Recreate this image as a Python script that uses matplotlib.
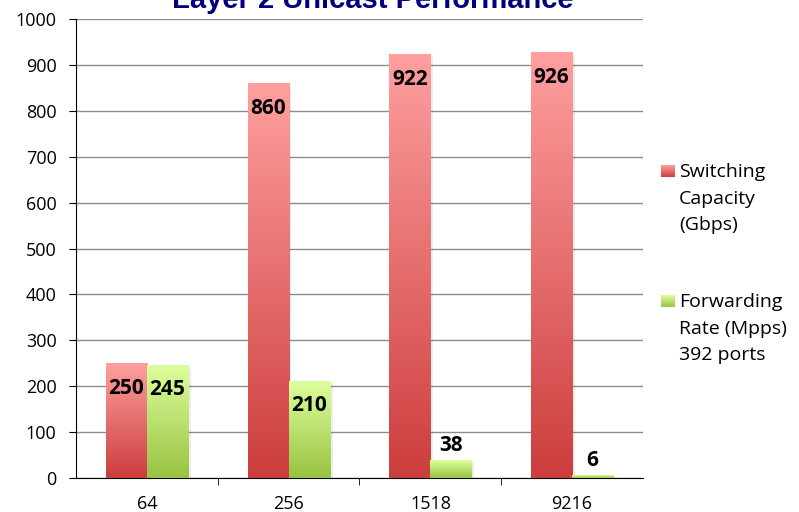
import numpy as np
import matplotlib.pyplot as plt
from matplotlib.colors import LinearSegmentedColormap
from matplotlib.patches import Rectangle

frame_sizes = ['64', '256', '1518', '9216']
switching_gbps = [250, 860, 922, 926]
forwarding_mpps = [245, 210, 38, 6]

red_cmap = LinearSegmentedColormap.from_list('red_grad', ['#cc3d3d', '#ff9f9f'])
green_cmap = LinearSegmentedColormap.from_list('green_grad', ['#98c242', '#ddff9c'])

plt.rcParams['font.family'] = ['Open Sans', 'DejaVu Sans']

fig = plt.figure(figsize=(7.99, 5.12), dpi=100)
ax = fig.add_axes([76 / 799, 34 / 512, 567 / 799, 459 / 512])

x = np.arange(len(frame_sizes))
width = 0.29
grad = np.linspace(0, 1, 256).reshape(-1, 1)


def gradient_bars(xs, values, cmap):
    for xi, v in zip(xs, values):
        # soft shadow behind each bar
        ax.add_patch(Rectangle((xi - width / 2 + 0.02, 0), width, v - 4,
                               facecolor='#000000', alpha=0.07, zorder=2))
        ax.imshow(grad, cmap=cmap, aspect='auto', origin='lower',
                  extent=(xi - width / 2, xi + width / 2, 0, v), zorder=3)


gradient_bars(x - width / 2, switching_gbps, red_cmap)
gradient_bars(x + width / 2, forwarding_mpps, green_cmap)

# value labels: inside the top of tall bars, above the short ones
label_kw = dict(ha='center', fontsize=15, fontweight='bold', zorder=5)
for xi, v in zip(x - width / 2, switching_gbps):
    ax.text(xi, v - 54, str(v), va='center', **label_kw)
for xi, v in zip(x + width / 2, forwarding_mpps):
    if v > 100:
        ax.text(xi, v - 52, str(v), va='center', **label_kw)
    else:
        ax.text(xi, v + 10, str(v), va='bottom', **label_kw)

ax.set_xlim(-0.5, len(frame_sizes) - 0.5)
ax.set_ylim(0, 1000)
ax.set_yticks(range(0, 1001, 100))
ax.yaxis.grid(True, color='#8c8c8c', linewidth=1)
ax.set_axisbelow(True)

ax.set_xticks(x)
ax.set_xticklabels(frame_sizes, fontsize=13)
ax.set_xticks(np.arange(-0.5, len(frame_sizes), 1)[1:-1], minor=True)
ax.tick_params(axis='x', which='major', length=0, pad=12)
ax.tick_params(axis='x', which='minor', length=5, direction='out', color='black')
ax.tick_params(axis='y', length=5, direction='out', labelsize=13, pad=9)

for side in ['top', 'right']:
    ax.spines[side].set_visible(False)
ax.spines['left'].set_color('black')
ax.spines['bottom'].set_color('black')

fig.text(373 / 799, 1 - 8 / 512, 'Layer 2 Unicast Performance',
         ha='center', va='baseline', fontsize=21, fontweight='bold',
         color='#000080', family='Liberation Sans')

# legend with gradient swatches
legend_items = [
    (red_cmap, 'Switching\nCapacity\n(Gbps)', 171),
    (green_cmap, 'Forwarding\nRate (Mpps)\n392 ports', 301),
]
for cmap, label, ymid in legend_items:
    lax = fig.add_axes([661 / 799, 1 - (ymid + 6) / 512, 14 / 799, 12 / 512])
    lax.imshow(grad, cmap=cmap, aspect='auto', origin='lower')
    lax.axis('off')
    fig.text(679 / 799, 1 - (ymid - 8) / 512, label, ha='left', va='top',
             fontsize=14, linespacing=1.62)

fig.savefig('out.png', dpi=100)
